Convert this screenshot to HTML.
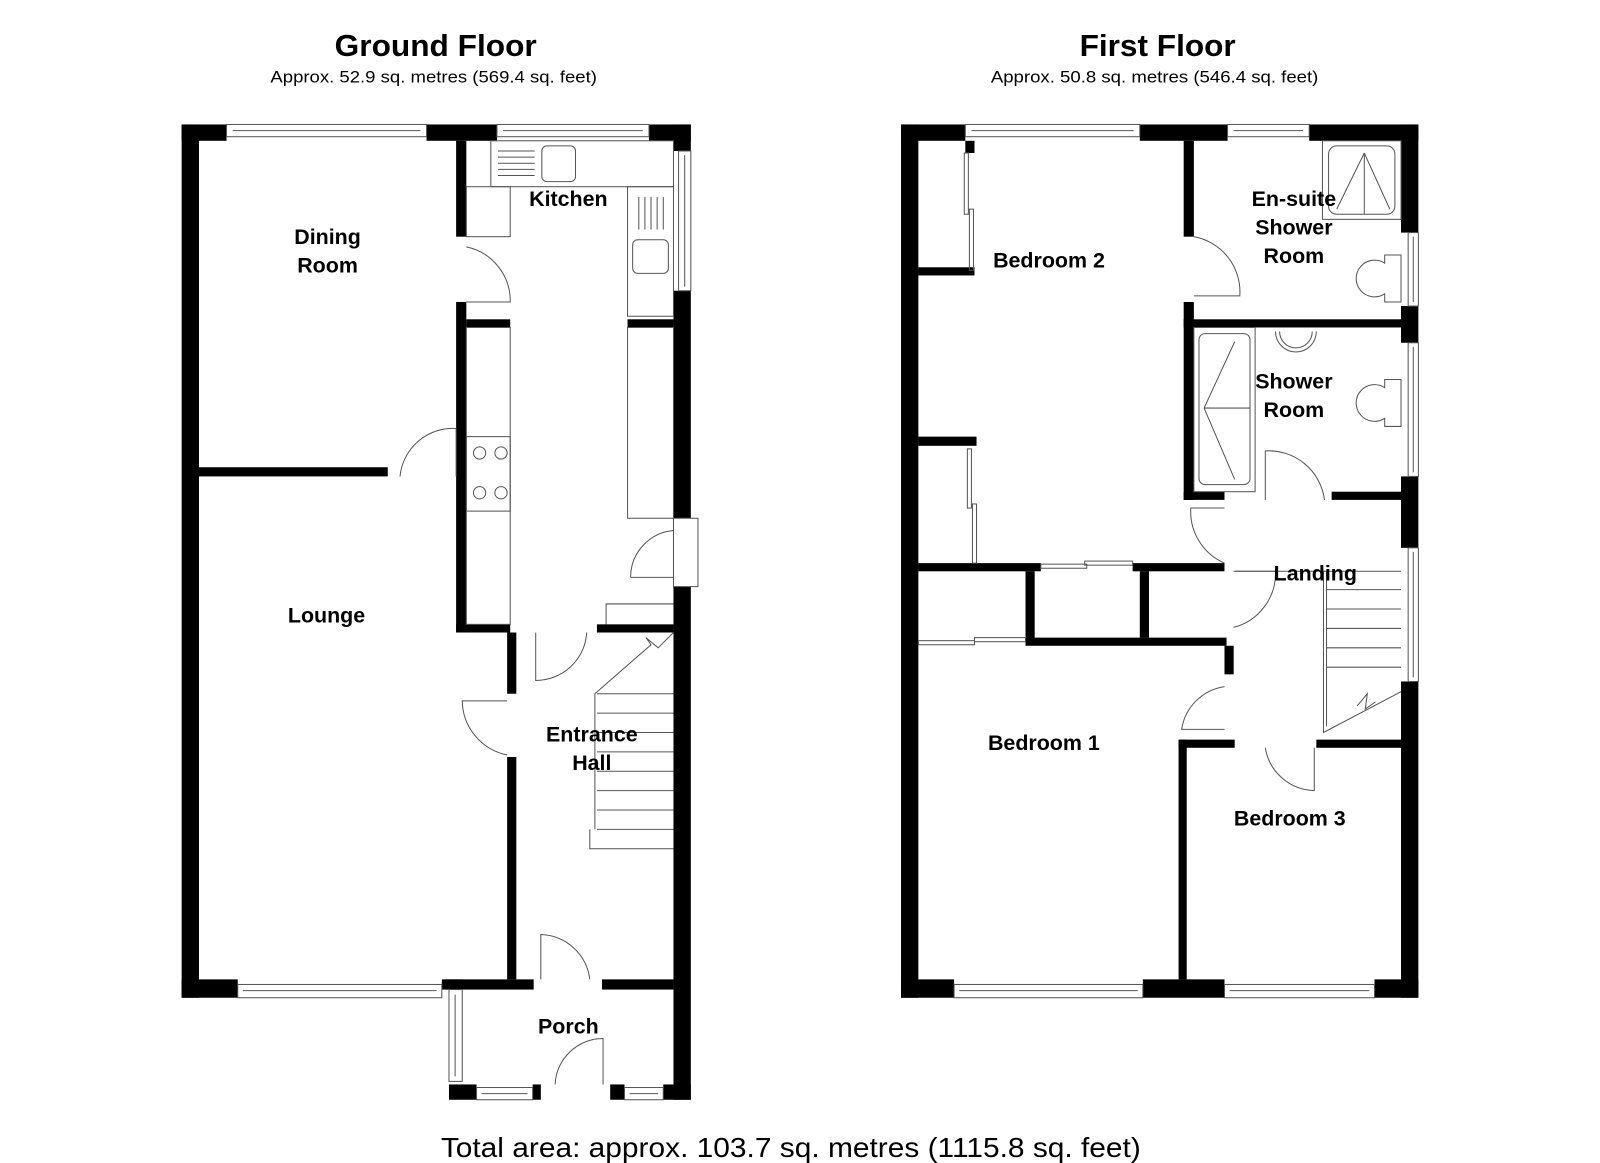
<!DOCTYPE html>
<html><head><meta charset="utf-8"><style>
html,body{margin:0;padding:0;background:#fff;}
svg{display:block;}
text{font-family:"Liberation Sans",Arial,sans-serif;fill:#000;}
.t{font-size:30px;font-weight:bold;}
.s{font-size:16px;}
.r{font-size:21px;font-weight:bold;}
.f{fill:none;stroke:#555;stroke-width:1;}
.d{fill:none;stroke:#555;stroke-width:1;}
.w{fill:#fff;stroke:#555;stroke-width:1;}
</style></head><body>
<svg width="1600" height="1163" viewBox="0 0 1568 1140" preserveAspectRatio="none" xmlns="http://www.w3.org/2000/svg">
<rect width="1568" height="1140" fill="#fff"/>
<text class="t" x="328" y="55" textLength="198" lengthAdjust="spacingAndGlyphs">Ground Floor</text>
<text class="s" x="265" y="81" textLength="320" lengthAdjust="spacingAndGlyphs">Approx. 52.9 sq. metres (569.4 sq. feet)</text>
<text class="t" x="1058" y="55" textLength="153" lengthAdjust="spacingAndGlyphs">First Floor</text>
<text class="s" x="971" y="81" textLength="321" lengthAdjust="spacingAndGlyphs">Approx. 50.8 sq. metres (546.4 sq. feet)</text>
<text x="432" y="1134" style="font-size:27px" textLength="686" lengthAdjust="spacingAndGlyphs">Total area: approx. 103.7 sq. metres (1115.8 sq. feet)</text>

<!-- GROUND FLOOR -->
<g fill="#000">
<rect x="178" y="122" width="17" height="856"/>
<rect x="178" y="122" width="44" height="16"/>
<rect x="418" y="122" width="69" height="16"/>
<rect x="636" y="122" width="41" height="16"/>
<rect x="660" y="122" width="17" height="26"/>
<rect x="660" y="285" width="17" height="223"/>
<rect x="660" y="575" width="17" height="503"/>
<rect x="178" y="960" width="55" height="18"/>
<rect x="433" y="960" width="90" height="10"/>
<rect x="590" y="960" width="70" height="10"/>
<rect x="437" y="960" width="16" height="10"/>
<rect x="440" y="1063" width="27" height="15"/>
<rect x="522" y="1063" width="8" height="15"/>
<rect x="598" y="1063" width="14" height="15"/>
<rect x="650" y="1063" width="27" height="15"/>
<rect x="447" y="138" width="10" height="94"/>
<rect x="447" y="296" width="10" height="324"/>
<rect x="447" y="612" width="53" height="8"/>
<rect x="497" y="620" width="9" height="60"/>
<rect x="497" y="742" width="9" height="218"/>
<rect x="195" y="458" width="185" height="9"/>
<rect x="457" y="313" width="43" height="8"/>
<rect x="615" y="313" width="45" height="8"/>
<rect x="585" y="612" width="75" height="8"/>
</g>
<rect class="w" x="222" y="122" width="196" height="12"/><line class="f" x1="228" y1="128" x2="412" y2="128"/>
<rect class="w" x="487" y="122" width="149" height="12"/><line class="f" x1="493" y1="128" x2="630" y2="128"/>
<rect class="w" x="665" y="148" width="12" height="137"/><line class="f" x1="671" y1="152" x2="671" y2="281"/>
<rect class="w" x="233" y="965" width="200" height="13"/><line class="f" x1="238" y1="971" x2="428" y2="971"/>
<rect class="w" x="440" y="970" width="13" height="90"/><line class="f" x1="446" y1="975" x2="446" y2="1055"/>
<rect class="w" x="467" y="1066" width="55" height="12"/><line class="f" x1="472" y1="1072" x2="517" y2="1072"/>
<rect class="w" x="612" y="1066" width="38" height="12"/><line class="f" x1="617" y1="1072" x2="645" y2="1072"/>
<rect class="w" x="660" y="508" width="24" height="67"/>
<rect class="f" x="481" y="138" width="179" height="45"/>
<rect class="f" x="457" y="183" width="43" height="49"/>
<rect class="f" x="615" y="183" width="45" height="127"/>
<rect class="f" x="531" y="143" width="33" height="35" rx="5"/>
<g class="f"><line x1="488" y1="148" x2="524" y2="148"/><line x1="488" y1="154" x2="524" y2="154"/><line x1="488" y1="160" x2="524" y2="160"/><line x1="488" y1="166" x2="524" y2="166"/><line x1="488" y1="172" x2="524" y2="172"/></g>
<rect class="f" x="620" y="235" width="35" height="33" rx="5"/>
<g class="f"><line x1="626" y1="193" x2="626" y2="225"/><line x1="632" y1="193" x2="632" y2="225"/><line x1="638" y1="193" x2="638" y2="225"/><line x1="644" y1="193" x2="644" y2="225"/><line x1="650" y1="193" x2="650" y2="225"/></g>
<rect class="f" x="457" y="321" width="43" height="291"/>
<rect class="f" x="457" y="428" width="43" height="73"/>
<g class="f"><circle cx="470" cy="444" r="6"/><circle cx="491" cy="444" r="6"/><circle cx="470" cy="483" r="6"/><circle cx="491" cy="483" r="6"/></g>
<rect class="f" x="615" y="321" width="45" height="187"/>
<path class="d" d="M457 242 A54 54 0 0 1 500 296 L457 296"/>
<path class="d" d="M447 420 A52 52 0 0 0 392 467"/><line class="d" x1="447" y1="420" x2="447" y2="467"/>
<path class="d" d="M618 566 A46 46 0 0 1 660 520"/><line class="d" x1="618" y1="566" x2="660" y2="566"/>
<path class="d" d="M525 620 L525 667 A50 50 0 0 0 575 620"/>
<path class="d" d="M497 687 L453 687 A55 55 0 0 0 497 740"/>
<path class="d" d="M530 960 L530 916 A50 50 0 0 1 578 960"/>
<path class="d" d="M544 1063 A47 47 0 0 1 591 1018 L591 1063"/>
<path class="f" d="M594 612 L594 592 L660 592"/>
<g class="f">
<line x1="585" y1="680" x2="660" y2="680"/><line x1="585" y1="699" x2="660" y2="699"/><line x1="585" y1="718" x2="660" y2="718"/><line x1="585" y1="737" x2="660" y2="737"/><line x1="585" y1="756" x2="660" y2="756"/><line x1="585" y1="775" x2="660" y2="775"/><line x1="585" y1="794" x2="660" y2="794"/><line x1="585" y1="813" x2="660" y2="813"/>
<path d="M578 813 L578 832 L660 832"/>
<path d="M583 813 L583 680 L638 632 L633 625 L645 635 L660 620"/>
</g>
<text class="r" x="321" y="239" text-anchor="middle">Dining</text>
<text class="r" x="321" y="267" text-anchor="middle">Room</text>
<text class="r" x="557" y="202" text-anchor="middle">Kitchen</text>
<text class="r" x="320" y="610" text-anchor="middle">Lounge</text>
<text class="r" x="580" y="727" text-anchor="middle">Entrance</text>
<text class="r" x="580" y="755" text-anchor="middle">Hall</text>
<text class="r" x="557" y="1013" text-anchor="middle">Porch</text>

<!-- FIRST FLOOR -->
<g fill="#000">
<rect x="883" y="122" width="17" height="856"/>
<rect x="883" y="122" width="63" height="16"/>
<rect x="1117" y="122" width="86" height="16"/>
<rect x="1283" y="122" width="107" height="16"/>
<rect x="1373" y="122" width="17" height="106"/>
<rect x="1373" y="300" width="17" height="36"/>
<rect x="1373" y="467" width="17" height="70"/>
<rect x="1373" y="668" width="17" height="310"/>
<rect x="883" y="960" width="52" height="18"/>
<rect x="1120" y="960" width="80" height="18"/>
<rect x="1347" y="960" width="43" height="18"/>
<rect x="900" y="262" width="55" height="8"/>
<rect x="946" y="138" width="9" height="12"/>
<rect x="900" y="428" width="57" height="9"/>
<rect x="1160" y="138" width="10" height="94"/>
<rect x="1160" y="296" width="10" height="25"/>
<rect x="1160" y="313" width="213" height="8"/>
<rect x="1160" y="321" width="10" height="169"/>
<rect x="1160" y="482" width="40" height="8"/>
<rect x="1305" y="482" width="68" height="8"/>
<rect x="900" y="552" width="120" height="8"/>
<rect x="1110" y="552" width="90" height="8"/>
<rect x="1005" y="560" width="9" height="72"/>
<rect x="1117" y="560" width="9" height="65"/>
<rect x="1005" y="625" width="197" height="8"/>
<rect x="1200" y="633" width="9" height="28"/>
<rect x="1155" y="725" width="55" height="8"/>
<rect x="1155" y="725" width="8" height="235"/>
<rect x="1290" y="725" width="83" height="8"/>
</g>
<rect class="w" x="946" y="122" width="171" height="12"/><line class="f" x1="952" y1="128" x2="1111" y2="128"/>
<rect class="w" x="1203" y="122" width="80" height="12"/><line class="f" x1="1209" y1="128" x2="1277" y2="128"/>
<rect class="w" x="1380" y="228" width="10" height="72"/><line class="f" x1="1385" y1="232" x2="1385" y2="296"/>
<rect class="w" x="1380" y="336" width="10" height="131"/><line class="f" x1="1385" y1="340" x2="1385" y2="463"/>
<rect class="w" x="1380" y="537" width="10" height="131"/><line class="f" x1="1385" y1="541" x2="1385" y2="664"/>
<rect class="w" x="935" y="965" width="185" height="13"/><line class="f" x1="940" y1="971" x2="1115" y2="971"/>
<rect class="w" x="1200" y="965" width="147" height="13"/><line class="f" x1="1205" y1="971" x2="1342" y2="971"/>
<g class="f">
<rect x="945" y="150" width="4" height="60"/><rect x="950" y="205" width="4" height="60"/>
<rect x="948" y="440" width="4" height="58"/><rect x="953" y="494" width="4" height="58"/>
<rect x="1020" y="553" width="45" height="4"/><rect x="1063" y="550" width="47" height="4"/>
<rect x="900" y="628" width="55" height="4"/><rect x="955" y="625" width="50" height="4"/>
</g>
<rect class="f" x="1296" y="138" width="77" height="77"/>
<rect class="f" x="1302" y="143" width="65" height="67" rx="8"/>
<path class="f" d="M1337 150 L1310 205 M1337 150 L1337 210 M1337 150 L1362 205"/>
<path class="f" d="M1357 250 L1357 258 A18 18 0 1 0 1357 288 L1357 296 L1373 296 L1373 250 Z"/>
<path class="f" d="M1357 372 L1357 380 A18 18 0 1 0 1357 410 L1357 418 L1373 418 L1373 372 Z"/>
<rect class="f" x="1170" y="321" width="60" height="161"/>
<rect class="f" x="1175" y="327" width="50" height="148" rx="6"/>
<path class="f" d="M1180 400 L1210 335 M1180 400 L1225 400 M1180 400 L1210 470"/>
<path class="f" d="M1250 325 A20 20 0 0 0 1290 325"/><path class="f" d="M1254 325 A16 16 0 0 0 1286 325"/>
<path class="d" d="M1170 232 A55 55 0 0 1 1215 290 L1170 290"/>
<path class="d" d="M1240 490 L1240 442 A55 55 0 0 1 1298 490"/>
<path class="d" d="M1200 498 L1167 498 A55 55 0 0 0 1200 552"/>
<path class="d" d="M1209 560 L1250 560 A55 55 0 0 1 1209 615"/>
<path class="d" d="M1200 673 A50 50 0 0 0 1158 715 L1200 715"/>
<path class="d" d="M1240 733 A50 50 0 0 0 1288 775 L1288 733"/>
<g class="f">
<line x1="1210" y1="560" x2="1373" y2="560"/>
<line x1="1300" y1="578" x2="1373" y2="578"/><line x1="1300" y1="597" x2="1373" y2="597"/><line x1="1300" y1="616" x2="1373" y2="616"/><line x1="1300" y1="635" x2="1373" y2="635"/><line x1="1300" y1="654" x2="1373" y2="654"/>
<path d="M1297 560 L1297 718 L1373 678"/>
<path d="M1300 560 L1300 712 M1330 692 L1340 680 L1338 695 L1348 688"/>
</g>
<text class="r" x="1028" y="262" text-anchor="middle">Bedroom 2</text>
<text class="r" x="1268" y="202" text-anchor="middle">En-suite</text>
<text class="r" x="1268" y="230" text-anchor="middle">Shower</text>
<text class="r" x="1268" y="258" text-anchor="middle">Room</text>
<text class="r" x="1268" y="381" text-anchor="middle">Shower</text>
<text class="r" x="1268" y="409" text-anchor="middle">Room</text>
<text class="r" x="1289" y="569" text-anchor="middle">Landing</text>
<text class="r" x="1023" y="735" text-anchor="middle">Bedroom 1</text>
<text class="r" x="1264" y="809" text-anchor="middle">Bedroom 3</text>
</svg>
</body></html>
